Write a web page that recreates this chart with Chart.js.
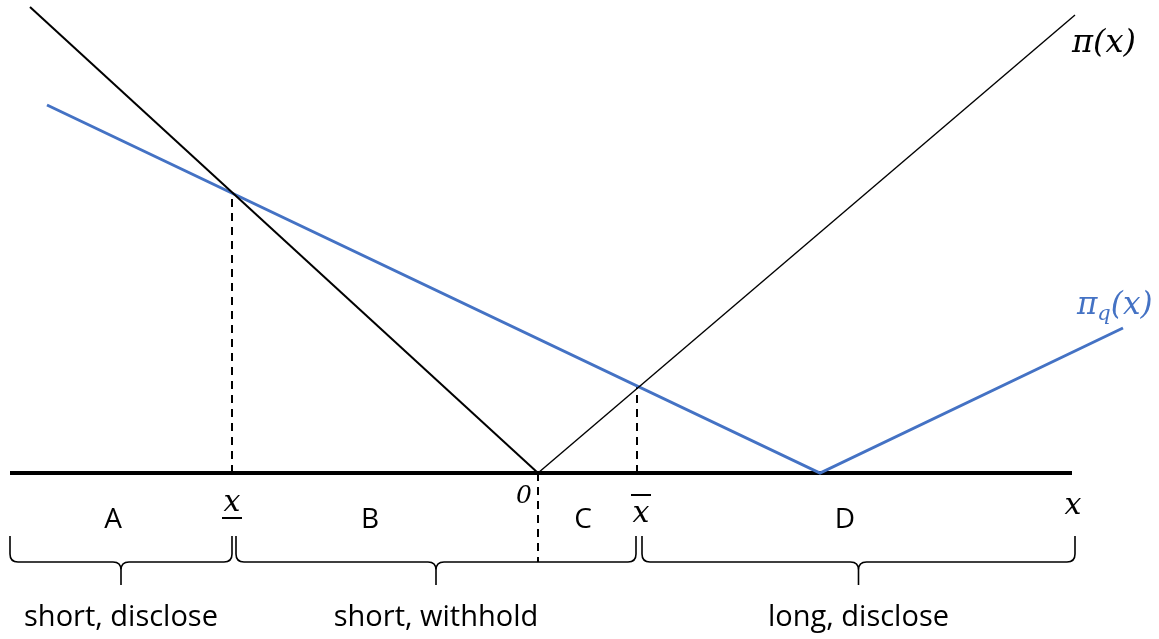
<!DOCTYPE html>
<html><head><meta charset="utf-8">
<script src="https://cdn.jsdelivr.net/npm/chart.js@4"></script>
<style>html,body{margin:0;padding:0;background:#fff;overflow:hidden}#wrap{width:1159px;height:639px;position:relative}</style>
</head><body><div id="wrap"><canvas id="c"></canvas></div>
<script>
// ---- data (abstract units; 0 = kink of pi(x), horizontal axis at y = 0) ----
const piX  = [-5.08, 0, 5.37];
const piY  = [4.66, 0, 4.58];
const piqX = [-4.91, 2.82, 5.85];
const piqY = [3.68, 0, 1.45];
const axisX = [-5.28, 5.34];
const xLow = -3.06, xHigh = 0.99, xZero = 0;
const cutLowY = 2.80, cutHighY = 0.86, braceBaseY = -0.89;
const regionLabels = ['A', 'B', 'C', 'D'];
const regionX = [-4.25, -1.68, 0.45, 3.07];
const braceRanges = [[-5.28, -3.06], [-3.02, 0.98], [1.04, 5.37]];
const braceLabels = ['short, disclose', 'short, withhold', 'long, disclose'];

const BLUE = '#4472C4';
const pts = (xs, ys) => xs.map((x, i) => ({x, y: ys[i]}));
const MATH = '"DejaVu Serif", "Liberation Serif", serif';
const SANS = '"Open Sans", "Liberation Sans", sans-serif';

const overlay = {
  id: 'overlay',
  afterDatasetsDraw(chart) {
    const {ctx, scales: {x: sx, y: sy}} = chart;
    const X = v => sx.getPixelForValue(v), Y = v => sy.getPixelForValue(v);
    ctx.save();
    // braces
    ctx.strokeStyle = '#000'; ctx.lineWidth = 1.6; ctx.lineJoin = 'round';
    const base = Y(braceBaseY), tip = Y(braceBaseY + 0.26), bottom = Y(braceBaseY - 0.23), r = 8;
    braceRanges.forEach(([a, b]) => {
      const x0 = X(a), x1 = X(b), m = (x0 + x1) / 2;
      ctx.beginPath();
      ctx.moveTo(x0, tip); ctx.lineTo(x0, base - r);
      ctx.quadraticCurveTo(x0, base, x0 + r, base);
      ctx.lineTo(m - r, base);
      ctx.quadraticCurveTo(m, base, m, base + r);
      ctx.lineTo(m, bottom);
      ctx.moveTo(m, base + r);
      ctx.quadraticCurveTo(m, base, m + r, base);
      ctx.lineTo(x1 - r, base);
      ctx.quadraticCurveTo(x1, base, x1, base - r);
      ctx.lineTo(x1, tip);
      ctx.stroke();
    });
    // brace labels
    ctx.fillStyle = '#000';
    ctx.textAlign = 'center'; ctx.textBaseline = 'middle';
    ctx.font = '29px ' + SANS;
    braceRanges.forEach(([a, b], i) => {
      ctx.fillText(braceLabels[i], (X(a) + X(b)) / 2, Y(-1.45));
    });
    // region letters
    ctx.font = '28px ' + SANS;
    regionLabels.forEach((t, i) => ctx.fillText(t, X(regionX[i]), Y(-0.47)));
    // math labels
    ctx.font = 'italic 30px ' + MATH;
    // underline x
    ctx.fillText('x', X(xLow), Y(-0.30));
    ctx.fillRect(X(xLow) - 10, Y(-0.45) - 1, 20, 2);
    // overline x
    ctx.fillText('x', X(xHigh + 0.04), Y(-0.41));
    ctx.fillRect(X(xHigh + 0.04) - 10, Y(-0.22) - 1, 20, 2);
    // right x
    ctx.fillText('x', X(5.35), Y(-0.33));
    // zero
    ctx.font = 'italic 25px ' + MATH;
    ctx.fillText('0', X(xZero - 0.14), Y(-0.23));
    // pi(x)
    ctx.font = 'italic 32px ' + MATH;
    ctx.textAlign = 'left';
    ctx.fillText('\u03C0(x)', X(5.34), Y(4.29));
    // pi_q(x)
    ctx.fillStyle = BLUE;
    ctx.font = 'italic 31px ' + MATH;
    let px = X(5.39), py = Y(1.67);
    ctx.fillText('\u03C0', px, py);
    px += ctx.measureText('\u03C0').width;
    ctx.font = 'italic 21px ' + MATH;
    ctx.fillText('q', px, py + 9);
    px += ctx.measureText('q').width;
    ctx.font = 'italic 31px ' + MATH;
    ctx.fillText('(x)', px, py);
    ctx.restore();
  }
};

new Chart(document.getElementById('c'), {
  type: 'line',
  data: {
    datasets: [
      {data: pts(piX.slice(0, 2), piY.slice(0, 2)), borderColor: '#000', borderWidth: 2},
      {data: pts(piX.slice(1), piY.slice(1)), borderColor: '#000', borderWidth: 1.4},
      {data: pts(piqX, piqY), borderColor: BLUE, borderWidth: 3},
      {data: pts([xLow, xLow], [0, cutLowY]), borderColor: '#000', borderWidth: 2, borderDash: [8, 6]},
      {data: pts([xHigh, xHigh], [0, cutHighY]), borderColor: '#000', borderWidth: 2, borderDash: [8, 6]},
      {data: pts([xZero, xZero], [0, braceBaseY]), borderColor: '#000', borderWidth: 2, borderDash: [8, 6]},
      {data: pts(axisX, [0, 0]), borderColor: '#000', borderWidth: 4}
    ].map(d => Object.assign({pointRadius: 0, fill: false, tension: 0, borderCapStyle: 'butt'}, d))
  },
  options: {
    responsive: true, maintainAspectRatio: false, animation: false, devicePixelRatio: 1,
    layout: {padding: 0},
    plugins: {legend: {display: false}, tooltip: {enabled: false}},
    scales: {
      x: {type: 'linear', min: -5.38, max: 6.21, display: false},
      y: {type: 'linear', min: -1.66, max: 4.73, display: false}
    }
  },
  plugins: [overlay]
});
</script>
</body></html>
